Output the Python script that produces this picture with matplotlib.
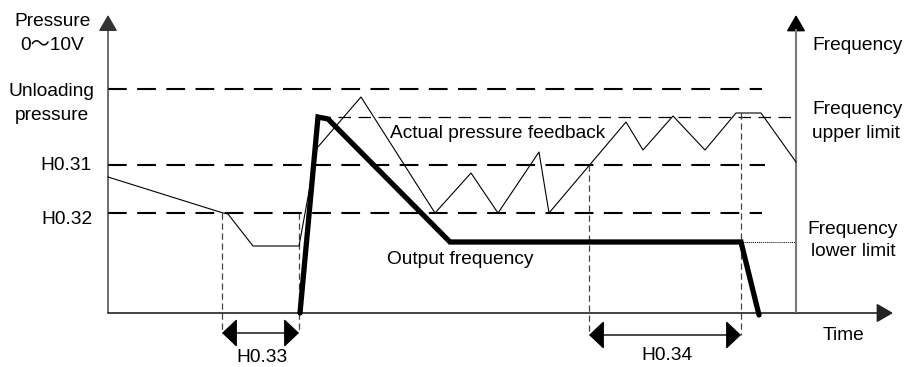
import matplotlib
matplotlib.use("Agg")
import matplotlib.pyplot as plt
from matplotlib.patches import ArrowStyle

plt.rcParams['font.family'] = ['Liberation Sans', 'Noto Sans CJK SC', 'DejaVu Sans']

# Time / level coordinates of the control diagram
t_end = 785            # end of time axis (arrow tip)
t_freq_axis = 688      # position of the frequency axis
axis_top = 298

# Threshold levels on the pressure axis
level_unloading = 224
level_upper = 196
level_h031 = 148
level_h032 = 100
level_lower = 71

# Actual pressure feedback trace
feedback_t = [0, 115, 120, 145, 191, 209, 253, 327, 363, 390, 431, 441,
              518, 535, 565, 597, 628, 653, 688]
feedback_p = [136, 100, 99, 67, 67, 165, 216, 100, 140, 100, 161, 100,
              191, 163, 197, 163, 200, 200, 151]

# Output frequency trace
output_t = [192, 210, 220, 342, 633, 651]
output_f = [0, 196, 194, 71, 71, -2]

# Timing markers (H0.33 delay, H0.34 delay)
h033_start, h033_end = 114, 191
h034_start, h034_end = 481, 633

fig = plt.figure(figsize=(9.05, 3.67), dpi=100)
ax = fig.add_axes([0, 0, 1, 1])
ax.set_xlim(-108, 797)
ax.set_ylim(-54, 313)
ax.axis('off')

axis_head = ArrowStyle('-|>', head_length=1.0, head_width=0.58)
dim_head = ArrowStyle('<|-|>', head_length=0.95, head_width=0.9)

# Axes with arrows
ax.annotate('', xy=(0, axis_top), xytext=(0, 0),
            arrowprops=dict(arrowstyle=axis_head, color='#333333', lw=1.0,
                            mutation_scale=10, shrinkA=0, shrinkB=0))
ax.annotate('', xy=(t_end, 0), xytext=(0, 0),
            arrowprops=dict(arrowstyle=axis_head, color='#222222', lw=1.2,
                            mutation_scale=10, shrinkA=0, shrinkB=0))
ax.annotate('', xy=(t_freq_axis, axis_top), xytext=(t_freq_axis, 0),
            arrowprops=dict(arrowstyle=axis_head, color='black', lw=1.2,
                            mutation_scale=10, shrinkA=0, shrinkB=0))
ax.plot([t_freq_axis, t_freq_axis], [0, axis_top - 14], color='#7a7a7a', lw=1.5,
        solid_capstyle='butt', zorder=3)

# Threshold lines
thick_dash = dict(color='black', lw=1.5, dashes=(9, 5))
ax.plot([0, 654], [level_unloading] * 2, **thick_dash)
ax.plot([0, 657], [level_h031] * 2, **thick_dash)
ax.plot([0, 654], [level_h032] * 2, **thick_dash)
ax.plot([210, 684], [level_upper] * 2, color='black', lw=0.9, dashes=(10, 6))
ax.plot([633, t_freq_axis], [level_lower] * 2, color='black', lw=0.7, dashes=(1, 1))

# Vertical timing guides
guide = dict(color='#444444', lw=0.9, dashes=(5, 3))
ax.plot([h033_start] * 2, [level_h032, -20], **guide)
ax.plot([h033_end] * 2, [level_h032, -20], **guide)
ax.plot([h034_start] * 2, [level_h031, -22], **guide)
ax.plot([h034_end] * 2, [200, -22], **guide)

# Curves
ax.plot(feedback_t, feedback_p, color='black', lw=0.8, zorder=4)
ax.plot(output_t, output_f, color='black', lw=3.8, solid_joinstyle='miter',
        solid_capstyle='round', zorder=5)

# Dimension arrows
ax.annotate('', xy=(h033_end, -20), xytext=(h033_start, -20),
            arrowprops=dict(arrowstyle=dim_head, color='black', lw=1.0,
                            mutation_scale=10, shrinkA=0, shrinkB=0))
ax.annotate('', xy=(h034_end, -22), xytext=(h034_start, -22),
            arrowprops=dict(arrowstyle=dim_head, color='black', lw=1.0,
                            mutation_scale=10, shrinkA=0, shrinkB=0))

fs = 13.8
ax.text(-55, 292, 'Pressure', fontsize=fs, ha='center', va='center')
ax.text(-56, 267, '0～10V', fontsize=fs, ha='center', va='center')
ax.text(-57, 221, 'Unloading', fontsize=fs, ha='center', va='center')
ax.text(-56, 198, 'pressure', fontsize=fs, ha='center', va='center')
ax.text(-17, 148, 'H0.31', fontsize=fs, ha='right', va='center')
ax.text(-15, 94, 'H0.32', fontsize=fs, ha='right', va='center')
ax.text(154, -45, 'H0.33', fontsize=fs, ha='center', va='center')
ax.text(559, -42, 'H0.34', fontsize=fs, ha='center', va='center')
ax.text(735, -22, 'Time', fontsize=fs, ha='center', va='center')
ax.text(704, 267, 'Frequency', fontsize=fs, ha='left', va='center')
ax.text(704, 203, 'Frequency', fontsize=fs, ha='left', va='center')
ax.text(704, 180, 'upper limit', fontsize=fs, ha='left', va='center')
ax.text(745, 83, 'Frequency', fontsize=fs, ha='center', va='center')
ax.text(745, 61, 'lower limit', fontsize=fs, ha='center', va='center')
ax.text(282, 180, 'Actual pressure feedback', fontsize=fs, ha='left', va='center')
ax.text(352, 54, 'Output frequency', fontsize=fs, ha='center', va='center')

fig.savefig('out.png', dpi=100)
